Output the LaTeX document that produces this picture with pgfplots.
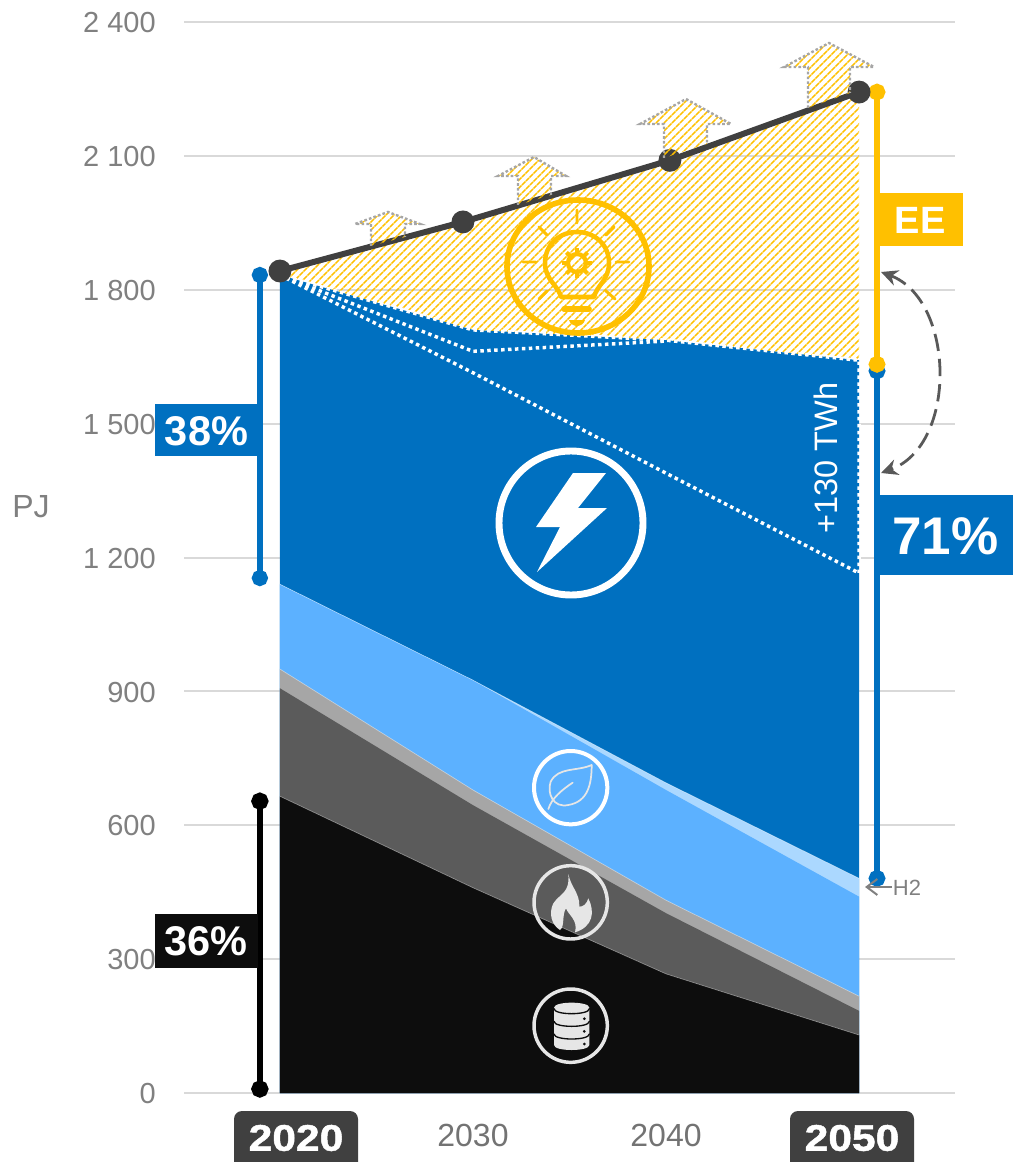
\documentclass[border=0pt]{standalone}
\usepackage{fontspec}
\setmainfont{Liberation Sans}
\usepackage{pgfplots}
\pgfplotsset{compat=1.18}
\usetikzlibrary{patterns.meta,arrows.meta}
\definecolor{eblue}{HTML}{0070C0}
\definecolor{lblue}{HTML}{5CB1FF}
\definecolor{pblue}{HTML}{ABD8FF}
\definecolor{lgray}{HTML}{A6A6A6}
\definecolor{dgray}{HTML}{5B5B5B}
\definecolor{nblack}{HTML}{0D0D0D}
\definecolor{lineg}{HTML}{404040}
\definecolor{gold}{HTML}{FFC000}
\definecolor{tickg}{HTML}{808080}
\definecolor{xtickg}{HTML}{737373}
\definecolor{icon}{HTML}{E6E6E6}
\newcommand{\fs}[1]{\fontsize{\fpeval{#1*0.75}}{\fpeval{#1*0.9}}\selectfont}
\tikzset{hatch/.style={pattern={Lines[angle=45,distance=4pt,line width=1.25pt]},pattern color=gold},
 whitedot/.style={draw=white,line width=2.6pt,dash pattern=on 2.6pt off 2.6pt},
 edge/.style={draw=white,draw opacity=0.45,line width=0.5pt},
 dotm/.style={mark=*,mark size=#1,mark options={line width=0pt,draw=none}}}
\begin{document}
\begin{tikzpicture}
\path[use as bounding box] (0,0) rectangle (759.75pt,-871.5pt);
\begin{axis}[
 at={(138pt,-819.75pt)},anchor=south west,
 scale only axis,width=578.25pt,height=803.25pt,
 xmin=2015.03,xmax=2054.97,ymin=0,ymax=2400,
 clip=false,
 axis line style={draw=none},
 major tick length=0pt,
 ytick={0,300,600,900,1200,1500,1800,2100,2400},
 yticklabels={0,300,600,900,1 200,1 500,1 800,2 100,2 400},
 xtick={2030,2040},xticklabels={2030,2040},
 ymajorgrids,grid style={draw=black!15,line width=1.5pt},
 yticklabel style={font=\fs{29},text=tickg,anchor=east,inner sep=0pt,xshift=-21pt,yshift=-0.5pt},
 xticklabel style={font=\fs{32},text=xtickg,anchor=center,inner sep=0pt,yshift=-31.5pt},
 axis on top=false,
]
\addplot[hatch,draw=none] coordinates {(2020,1842)(2029.48,1952)(2040.2,2090)(2050,2243)(2050,1642)(2040,1687)(2030,1710)(2020,1833)} -- cycle;
\addplot[fill=eblue,draw=none] coordinates {(2020,1833)(2030,1710)(2040,1687)(2050,1642)} \closedcycle;
\addplot[fill=pblue,draw=none] coordinates {(2020,1140)(2030,925)(2040,695)(2050,481)} \closedcycle;
\addplot[fill=lblue,draw=none] coordinates {(2020,1140)(2030,925)(2040,679)(2050,440)} \closedcycle;
\addplot[fill=lgray,draw=none] coordinates {(2020,950)(2030,679)(2040,432)(2050,217)} \closedcycle;
\addplot[fill=dgray,draw=none] coordinates {(2020,907)(2030,645)(2040,403)(2050,184)} \closedcycle;
\addplot[fill=nblack,draw=none] coordinates {(2020,665)(2030,460)(2040,267)(2050,130)} \closedcycle;
\addplot[edge] coordinates {(2020,665)(2030,460)(2040,267)(2050,130)};
\addplot[edge] coordinates {(2020,950)(2030,679)(2040,432)(2050,217)};
\addplot[edge] coordinates {(2020,1140)(2030,925)(2040,695)(2050,481)};
\addplot[whitedot] coordinates {(2020,1833)(2030,1710)(2040,1687)(2050,1642)(2050,1165)};
\addplot[whitedot] coordinates {(2020,1833)(2030,1662)(2040,1685)};
\addplot[whitedot] coordinates {(2020,1833)(2030,1614)(2040,1389)(2050,1165)};
\addplot[eblue,line width=4.5pt,dotm=3.8pt,mark options={fill=eblue}] coordinates {(2018.96,1833)(2018.96,1154)};
\addplot[black,line width=4.5pt,dotm=4.2pt,mark options={fill=black}] coordinates {(2018.96,654)(2018.96,9)};
\addplot[eblue,line width=4.5pt,dotm=4pt,mark options={fill=eblue}] coordinates {(2050.93,1618)(2050.93,481)};
\addplot[gold,line width=4.5pt,dotm=4pt,mark options={fill=gold}] coordinates {(2050.93,2243)(2050.93,1633)};
\addplot[lineg,line width=4.5pt,dotm=6.3pt,mark options={fill=lineg}] coordinates {(2020,1842)(2029.48,1952)(2040.2,2090)(2050,2243)};
\end{axis}
\begin{scope}[x=0.75pt,y=-0.75pt]
\begin{scope}[line width=1.8pt,draw=lgray,dash pattern=on 2pt off 1.6pt]
\draw[hatch] (371,246)--(371,224)--(355,224)--(388,212)--(420,224)--(405,224)--(405,237);
\draw[hatch] (518,205)--(518,176)--(498,176)--(534,157)--(566,176)--(551,176)--(551,195);
\draw[hatch] (664,158)--(664,124)--(640,124)--(686,99)--(731,124)--(707,124)--(707,144);
\draw[hatch] (808,108)--(808,67)--(784,67)--(829,43)--(874,67)--(850,67)--(850,93);
\end{scope}
\begin{scope}[draw=gold,line cap=round,line join=round]
\draw[line width=4.2pt] (578,266.5) ellipse [x radius=71,y radius=66.5];
\draw[line width=3.4pt] (561,297) -- (594,297) .. controls (597,285) and (609,280) .. (609,263) .. controls (609,244) and (594,232) .. (577,232) .. controls (560,232) and (545,244) .. (545,263) .. controls (545,280) and (558,285) .. (561,297) -- cycle;
\draw[line width=3.2pt] (577,263) circle (9);
\foreach \a in {0,45,...,315}{\draw[line width=3pt,line cap=butt] (577,263)++(\a:10) -- ++(\a:5);}
\draw[line width=2.2pt] (577,210)--(577,223) (539,227)--(547,235) (614,227)--(606,235) (523,262)--(536,262) (616,262)--(629,262) (547,291)--(539,299) (606,291)--(615,299);
\draw[line width=4.2pt] (564,309)--(589,309);
\fill[gold] (569,320) -- (585,320) .. controls (584,324) and (580,326) .. (577,326) .. controls (574,326) and (570,324) .. (569,320) -- cycle;
\end{scope}
\draw[white,line width=5.2pt] (571,523) circle (72);
\fill[white] (573,473)--(606,473)--(578,508)--(607,508)--(537,572)--(560,527)--(536,527)--cycle;
\begin{scope}[shift={(480,730)},x=0.25pt,y=-0.25pt,line cap=round,line join=round]
\draw[white,line width=3pt] (272,173) circle (110);
\draw[icon,line width=1.3pt] (335,105) .. controls (290,125) and (235,110) .. (212,155) .. controls (200,190) and (220,235) .. (265,225) .. controls (325,215) and (335,160) .. (335,105) -- cycle;
\draw[icon,line width=1.3pt] (205,237) .. controls (215,205) and (245,180) .. (278,158);
\draw[icon,line width=2.6pt] (272,517) circle (110);
\fill[icon] (265,432) .. controls (272,470) and (300,490) .. (298,530) .. controls (310,530) and (320,522) .. (325,505) .. controls (345,545) and (340,590) .. (285,607) .. controls (295,570) and (265,555) .. (258,535) .. controls (245,555) and (255,590) .. (240,600) .. controls (215,585) and (205,550) .. (220,520) .. controls (240,490) and (270,490) .. (265,432) -- cycle;
\draw[icon,line width=2.6pt] (272,887) circle (110);
\fill[icon] (222,833) .. controls (222,813) and (328,813) .. (328,833) -- (328,945) .. controls (328,965) and (222,965) .. (222,945) -- cycle;
\draw[nblack,line width=1pt] (222,836) .. controls (222,856) and (328,856) .. (328,836);
\draw[nblack,line width=1pt] (222,874) .. controls (222,894) and (328,894) .. (328,874);
\draw[nblack,line width=1pt] (222,912) .. controls (222,932) and (328,932) .. (328,912);
\fill[nblack] (313,866) circle (4.5) (313,904) circle (4.5) (313,942) circle (4.5);
\end{scope}
\node[white,rotate=90,font=\fs{32.5}] at (826,458) {+130 TWh};
\draw[tickg,line width=1.5pt,-{Straight Barb[length=8pt,width=12pt]}] (892,887)--(865,887);
\node[tickg,font=\fs{22}] at (907,888) {H2};
\draw[black!65,line width=2.1pt,dash pattern=on 13pt off 6pt,{Stealth[length=12.5pt,width=12pt]}-{Stealth[length=12.5pt,width=12pt]}] (881,272) .. controls (955,300) and (958,445) .. (881,473);
\node[tickg,font=\fs{32}] at (31,507) {PJ};
\fill[eblue] (155,404) rectangle (258,456);
\node[white,font=\bfseries\fs{41.5}] at (206.5,431) {38\%};
\fill[nblack] (155,914) rectangle (258,968);
\node[white,font=\bfseries\fs{41.5}] at (206,941) {36\%};
\fill[eblue] (878,495) rectangle (1013,575);
\node[white,font=\bfseries\fs{53}] at (945.5,536) {71\%};
\fill[gold] (878,193) rectangle (963,246);
\node[white,font=\bfseries\fs{38}] at (920,220) {EE};
\fill[lineg,rounded corners=6pt] (234,1111) rectangle (358,1170);
\node[white,xscale=1.15,font=\bfseries\fs{37}\addfontfeature{FakeBold=1.2}] at (296,1138) {2020};
\fill[lineg,rounded corners=6pt] (790,1111) rectangle (914,1170);
\node[white,xscale=1.15,font=\bfseries\fs{37}\addfontfeature{FakeBold=1.2}] at (852,1138) {2050};
\end{scope}
\end{tikzpicture}
\end{document}
